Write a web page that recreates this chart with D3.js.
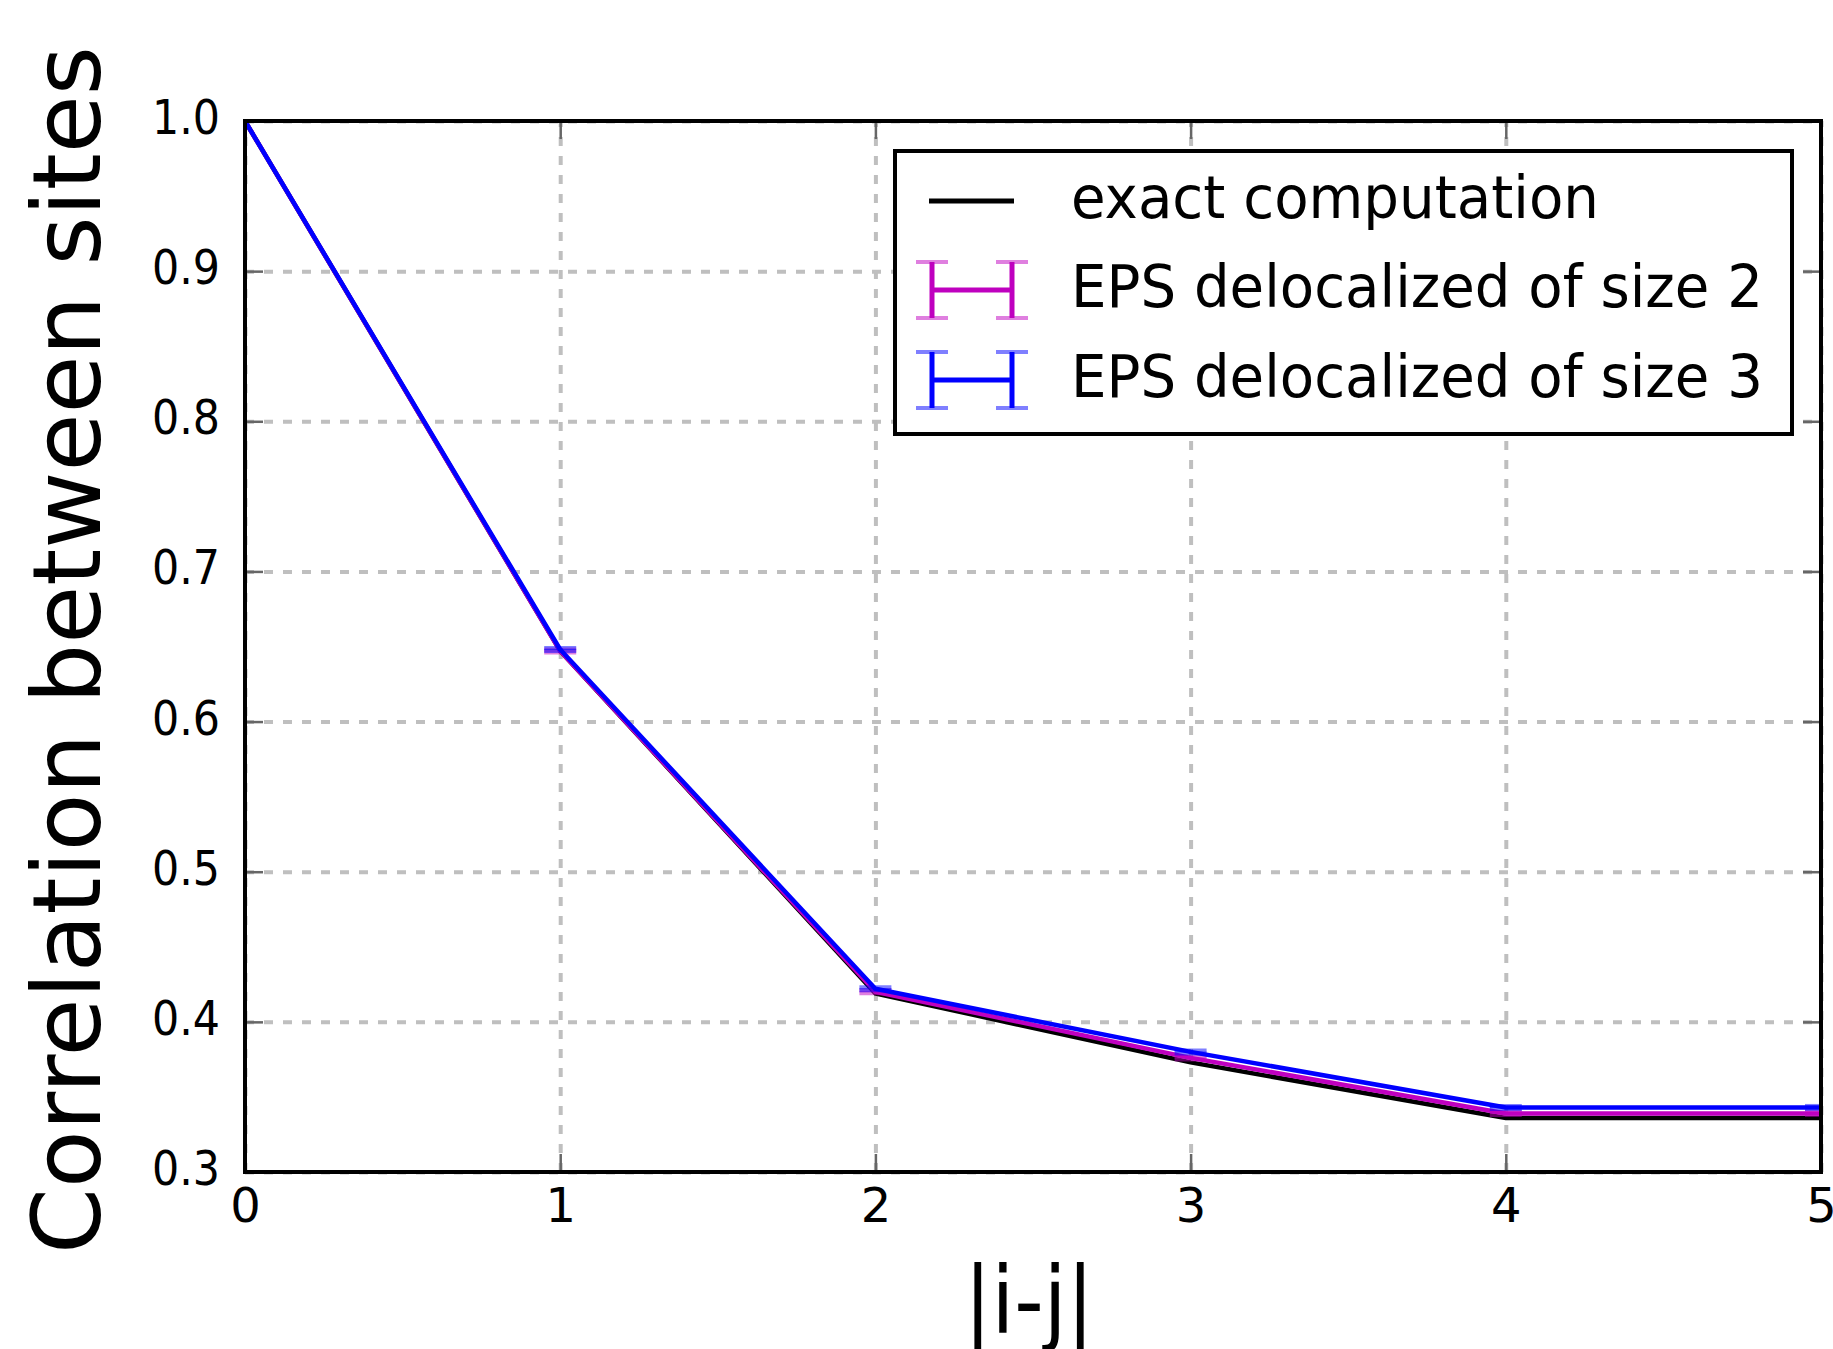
<!DOCTYPE html>
<html>
<head>
<meta charset="utf-8">
<script src="https://cdn.jsdelivr.net/npm/d3@7"></script>
<style>
  body { margin: 0; background: #fff; }
  text { font-family: "DejaVu Sans", sans-serif; fill: #000; }
</style>
</head>
<body>
<div id="chart"></div>
<script>
// data
let dist = [0, 1, 2, 3, 4, 5];
let exact = [1.0, 0.647, 0.419, 0.373, 0.336, 0.336];
let eps2 = [1.0, 0.647, 0.420, 0.376, 0.339, 0.339];
let eps3 = [1.0, 0.648, 0.422, 0.380, 0.343, 0.343];
let err2 = [0, 0.001, 0.001, 0.001, 0.001, 0.001];
let err3 = [0, 0.001, 0.001, 0.001, 0.001, 0.001];
let xTicks = [0, 1, 2, 3, 4, 5];
let yTicks = [0.3, 0.4, 0.5, 0.6, 0.7, 0.8, 0.9, 1.0];
let legendNames = ["exact computation", "EPS delocalized of size 2", "EPS delocalized of size 3"];

// dimensions
let width = 1833, height = 1349;
let margin = {left: 245, right: 12, top: 121, bottom: 177};
let w = width - margin.left - margin.right,
    h = height - margin.top - margin.bottom;

let svg = d3.select("#chart").append("svg")
  .attr("width", width)
  .attr("height", height);

let g = svg.append("g")
  .attr("transform", "translate(" + margin.left + "," + margin.top + ")");

let x = d3.scaleLinear().domain([0, 5]).range([0, w]);
let y = d3.scaleLinear().domain([0.3, 1.0]).range([h, 0]);

svg.append("clipPath").attr("id", "plotclip")
  .append("rect").attr("x", 0).attr("y", 0).attr("width", w).attr("height", h);

// GRID
let gridX = g.append("g").attr("transform", "translate(0," + h + ")")
  .call(d3.axisBottom(x).tickValues(xTicks).tickSize(-h).tickFormat(""));
let gridY = g.append("g")
  .call(d3.axisLeft(y).tickValues(yTicks).tickSize(-w).tickFormat(""));
[gridX, gridY].forEach(a => {
  a.select(".domain").remove();
  a.selectAll("line").attr("stroke", "#bfbfbf").attr("stroke-width", 4)
    .attr("stroke-dasharray", "9,10");
});

// TICKS (inward, all four sides)
let axBottom = g.append("g").attr("transform", "translate(0," + h + ")")
  .call(d3.axisBottom(x).tickValues(xTicks).tickSizeInner(-18).tickSizeOuter(0).tickPadding(40).tickFormat(d3.format("d")));
let axTop = g.append("g")
  .call(d3.axisTop(x).tickValues(xTicks).tickSizeInner(-18).tickSizeOuter(0).tickFormat(""));
let axLeft = g.append("g")
  .call(d3.axisLeft(y).tickValues(yTicks).tickSizeInner(-18).tickSizeOuter(0).tickPadding(25).tickFormat(d3.format(".1f")));
let axRight = g.append("g").attr("transform", "translate(" + w + ",0)")
  .call(d3.axisRight(y).tickValues(yTicks).tickSizeInner(-18).tickSizeOuter(0).tickFormat(""));
[axBottom, axTop, axLeft, axRight].forEach(a => {
  a.select(".domain").remove();
  a.selectAll("line").attr("stroke", "#666").attr("stroke-width", 2.5);
  a.selectAll("text").style("font-family", "DejaVu Sans").attr("fill", "#222");
});
axBottom.selectAll("text").style("font-size", "48px").attr("dy", "0.2em");
axLeft.selectAll("text").style("font-size", "48px").attr("dy", "0.26em")
  .attr("textLength", 68).attr("lengthAdjust", "spacingAndGlyphs");

// LINES
let line = vals => d3.line().x((d, i) => x(dist[i])).y(d => y(d))(vals);
let plot = g.append("g").attr("clip-path", "url(#plotclip)");

plot.append("path").attr("d", line(exact))
  .attr("fill", "none").attr("stroke", "#000").attr("stroke-width", 4.5);

let series = [
  {vals: eps2, err: err2, color: "#bf00bf"},
  {vals: eps3, err: err3, color: "#0000ff"}
];
series.forEach(s => {
  plot.append("path").attr("d", line(s.vals))
    .attr("fill", "none").attr("stroke", s.color).attr("stroke-width", 4.5)
    .attr("stroke-linejoin", "round");
  // error bars
  let eb = plot.append("g").selectAll("g").data(s.vals).enter().append("g");
  eb.append("line")
    .attr("x1", (d, i) => x(dist[i])).attr("x2", (d, i) => x(dist[i]))
    .attr("y1", (d, i) => y(d - s.err[i])).attr("y2", (d, i) => y(d + s.err[i]))
    .attr("stroke", s.color).attr("stroke-width", 4.5);
  [-1, 1].forEach(sign => {
    eb.append("line")
      .attr("x1", (d, i) => x(dist[i]) - 16).attr("x2", (d, i) => x(dist[i]) + 16)
      .attr("y1", (d, i) => y(d + sign * s.err[i])).attr("y2", (d, i) => y(d + sign * s.err[i]))
      .attr("stroke", s.color).attr("stroke-opacity", 0.5).attr("stroke-width", 4);
  });
});

// FRAME
g.append("rect").attr("x", 0).attr("y", 0).attr("width", w).attr("height", h)
  .attr("fill", "none").attr("stroke", "#000").attr("stroke-width", 4);

// AXIS LABELS
svg.append("text")
  .attr("transform", "translate(100,650) rotate(-90)")
  .attr("text-anchor", "middle")
  .style("font-size", "95px")
  .attr("textLength", 1208).attr("lengthAdjust", "spacingAndGlyphs")
  .text("Correlation between sites");

svg.append("text")
  .attr("x", 1029).attr("y", 1333)
  .attr("text-anchor", "middle")
  .style("font-size", "92px")
  .attr("textLength", 130).attr("lengthAdjust", "spacingAndGlyphs")
  .text("|i-j|");

// LEGEND
let legend = svg.append("g");
legend.append("rect").attr("x", 895).attr("y", 151).attr("width", 897).attr("height", 283)
  .attr("fill", "#fff").attr("stroke", "#000").attr("stroke-width", 4);

let rowY = [201, 290, 380];
legend.append("line").attr("x1", 929).attr("x2", 1014).attr("y1", rowY[0]).attr("y2", rowY[0])
  .attr("stroke", "#000").attr("stroke-width", 5);
series.forEach((s, k) => {
  let cy = rowY[k + 1];
  let lg = legend.append("g");
  lg.append("line").attr("x1", 932).attr("x2", 1012).attr("y1", cy).attr("y2", cy)
    .attr("stroke", s.color).attr("stroke-width", 5);
  [932, 1012].forEach(cx => {
    lg.append("line").attr("x1", cx).attr("x2", cx).attr("y1", cy - 28).attr("y2", cy + 28)
      .attr("stroke", s.color).attr("stroke-width", 5);
    [-28, 28].forEach(off => {
      lg.append("line").attr("x1", cx - 16).attr("x2", cx + 16).attr("y1", cy + off).attr("y2", cy + off)
        .attr("stroke", s.color).attr("stroke-opacity", 0.5).attr("stroke-width", 4);
    });
  });
});
let textLens = [528, 692, 692];
legendNames.forEach((name, k) => {
  legend.append("text")
    .attr("x", 1071).attr("y", rowY[k] + 17)
    .style("font-size", "58px")
    .attr("textLength", textLens[k]).attr("lengthAdjust", "spacingAndGlyphs")
    .attr("fill", "#111")
    .text(name);
});
</script>
</body>
</html>
